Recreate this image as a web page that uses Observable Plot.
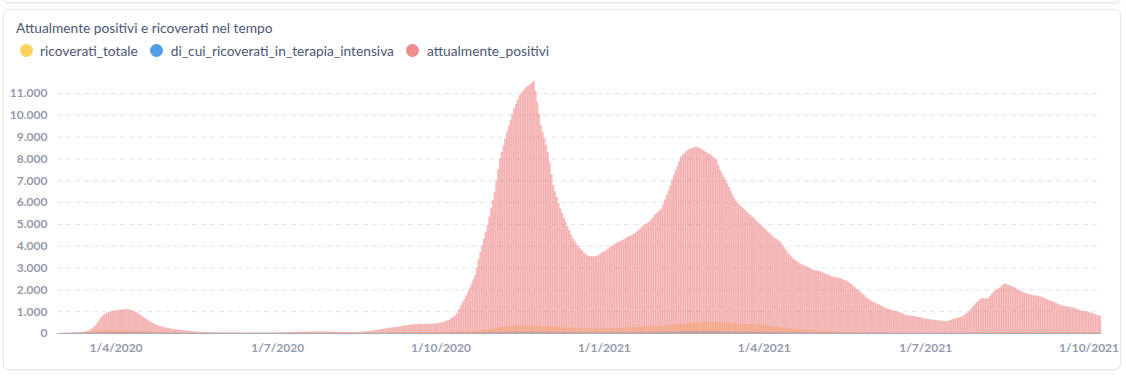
<!DOCTYPE html>
<html>
<head>
<meta charset="utf-8">
<script src="https://cdn.jsdelivr.net/npm/d3@7"></script>
<script src="https://cdn.jsdelivr.net/npm/@observablehq/plot@0.6"></script>
<style>
html,body{margin:0;padding:0;background:#fff;width:1126px;height:376px;overflow:hidden;font-family:Lato,"Open Sans",sans-serif;}
#prev{position:absolute;left:3px;top:-14px;width:1116px;height:15px;border:1px solid #e4e7eb;border-radius:6px;box-shadow:0 1px 3px rgba(0,0,0,0.06);}
#card{position:absolute;left:3px;top:9px;width:1116px;height:359px;border:1px solid #e4e7eb;border-radius:6px;box-shadow:0 1px 3px rgba(0,0,0,0.06);}
#title{position:absolute;left:16px;top:19px;font-size:13.75px;color:#4c5773;white-space:nowrap;}
#legend{position:absolute;left:19.5px;top:42px;display:flex;align-items:center;font-size:13.75px;color:#4c5773;white-space:nowrap;}
.item{display:flex;align-items:center;margin-right:12.5px;}
.dot{width:13px;height:13px;border-radius:50%;margin-right:7.5px;}
#chart{position:absolute;left:0;top:80px;}
</style>
</head>
<body>
<div id="prev"></div>
<div id="card"></div>
<div id="title">Attualmente positivi e ricoverati nel tempo</div>
<div id="legend"></div>
<div id="chart"></div>
<script>
// ---- DATA: one row per month, daily values, from March 2020 to 7 October 2021 ----
const firstYear = 2020, firstMonth = 2; // March 2020 (0-based month)
const seriesNames = ["ricoverati_totale", "di_cui_ricoverati_in_terapia_intensiva", "attualmente_positivi"];
const seriesColors = ["#F9D45C", "#509EE3", "#EF8C8C"];

const attualmentePositivi = [
  [5,8,12,16,20,25,30,35,38,40,42,45,50,60,80,110,150,200,260,340,440,560,680,780,850,900,940,970,1000,1020,1040],
  [1040,1060,1070,1080,1090,1095,1090,1080,1060,1030,1000,960,910,860,800,750,690,630,580,530,480,440,400,370,340,310,290,270,250,230],
  [215,200,185,175,165,155,145,135,125,115,105,95,88,80,72,65,58,52,48,45,42,40,38,36,35,34,33,32,31,30,30],
  [30,29,29,28,28,27,27,26,26,25,25,25,24,24,24,23,23,23,22,22,22,22,22,23,23,24,25,26,27,28],
  [30,32,34,36,38,40,42,45,48,50,52,55,58,60,62,64,65,66,67,68,68,69,70,70,70,70,70,68,66,64,62],
  [62,60,58,56,54,52,50,48,46,45,44,43,42,42,44,50,58,66,75,84,92,100,112,125,138,150,162,175,190,205,220],
  [235,248,258,268,278,288,298,310,322,335,348,360,375,390,400,405,408,410,412,414,416,418,420,422,424,426,430,440,455,475],
  [475,500,530,565,600,650,700,760,820,930,1100,1280,1420,1560,1720,1890,2080,2270,2460,2660,3000,3370,3730,4030,4330,4640,4950,5330,5710,6100,6480],
  [7000,7500,8000,8300,8600,8920,9230,9500,9770,10030,10300,10500,10700,10900,11000,11100,11200,11290,11350,11400,11480,11560,11100,10600,10050,9530,9230,8920,8620,8310],
  [7800,7300,6780,6500,6230,5970,5710,5500,5300,5100,4900,4720,4530,4340,4220,4100,3990,3880,3800,3720,3640,3570,3540,3520,3500,3510,3530,3560,3600,3670,3740],
  [3740,3810,3880,3940,4000,4060,4110,4150,4190,4230,4260,4310,4360,4410,4450,4490,4530,4570,4650,4720,4800,4870,4930,4990,5040,5100,5200,5300,5410,5490,5560],
  [5640,5710,5920,6130,6340,6550,6780,7010,7240,7470,7670,7880,8080,8170,8250,8340,8420,8450,8480,8510,8540,8520,8490,8460,8400,8350,8290,8230],
  [8230,8150,8080,8000,7930,7700,7470,7320,7160,7010,6860,6690,6510,6340,6170,6070,5970,5870,5790,5710,5640,5560,5490,5410,5330,5260,5180,5100,5030,4950,4870],
  [4800,4720,4640,4560,4490,4410,4350,4300,4240,4180,4060,3930,3800,3700,3610,3510,3420,3360,3300,3240,3190,3150,3110,3080,3040,3000,2960,2920,2890,2860],
  [2860,2840,2810,2770,2740,2700,2660,2630,2600,2580,2560,2540,2520,2510,2470,2430,2390,2350,2290,2220,2150,2090,2020,1960,1890,1810,1740,1660,1590,1540,1480],
  [1430,1390,1360,1320,1280,1240,1200,1170,1130,1100,1080,1050,1020,1000,980,950,920,880,850,820,810,800,790,780,765,750,735,720,690,665],
  [665,640,630,620,610,600,590,580,570,560,555,550,550,570,600,640,670,690,710,730,750,800,860,920,980,1080,1180,1280,1360,1440,1520],
  [1590,1600,1590,1580,1600,1700,1800,1890,1950,2010,2070,2120,2200,2280,2250,2220,2180,2150,2120,2080,2030,1990,1940,1900,1860,1820,1800,1780,1760,1740,1720],
  [1720,1700,1680,1660,1620,1590,1550,1510,1480,1460,1430,1390,1350,1320,1280,1260,1240,1230,1210,1190,1170,1150,1130,1100,1080,1050,1030,1010,990,980],
  [950,920,900,870,840,810,780]
];

const ricoveratiTotale = [
  [0,0,2,3,4,5,6,8,10,12,15,18,22,27,33,40,48,56,65,75,85,95,105,112,118,124,128,130,132,132,131],
  [131,130,128,126,123,120,116,112,108,103,98,93,88,83,78,73,68,63,58,54,50,46,42,39,36,33,30,28,26,24],
  [22,20,19,18,17,16,15,14,13,12,11,10,10,9,9,8,8,7,7,7,6,6,6,5,5,5,5,5,5,5,5],
  [5,5,4,4,4,4,4,3,3,3,3,3,3,3,3,3,3,3,3,3,3,3,3,3,3,3,3,3,3,3],
  [3,3,4,4,5,5,6,6,7,8,9,10,11,12,13,14,15,15,16,16,17,17,17,18,18,18,18,17,17,16,16],
  [16,16,15,15,14,14,13,13,12,12,12,12,12,12,12,13,13,14,14,15,16,17,18,19,20,21,22,23,24,25,26],
  [27,28,29,30,31,32,33,34,35,36,37,38,39,40,41,42,42,43,43,44,44,45,45,46,46,47,48,49,50,52],
  [52,54,56,58,60,62,64,66,68,70,72,74,76,78,80,82,85,88,92,96,100,108,118,128,140,152,165,178,192,206,220],
  [235,250,265,278,290,300,310,318,325,330,335,338,340,342,343,344,345,345,344,343,342,340,338,335,332,328,324,320,315,310],
  [305,300,295,290,285,280,275,270,265,260,255,250,246,242,238,234,230,227,224,221,218,216,214,212,210,210,210,210,212,214,216],
  [216,218,220,222,225,228,231,234,237,240,243,246,249,252,256,260,264,268,272,276,280,284,288,292,296,300,305,310,316,322,328],
  [334,340,346,352,360,368,376,385,394,403,412,420,428,436,444,452,460,468,476,484,492,500,508,514,518,520,520,518],
  [518,515,512,508,504,500,495,490,485,480,475,470,465,460,455,450,445,440,435,430,425,420,414,408,402,396,390,384,378,372,366],
  [360,352,344,336,328,318,308,298,288,278,268,258,248,238,228,218,208,200,192,184,176,168,160,152,145,138,131,124,118,112],
  [112,106,100,95,90,86,82,78,74,70,67,64,61,58,55,52,50,48,46,44,42,40,38,36,34,32,30,29,28,27,26],
  [25,24,23,22,21,20,19,18,18,17,17,16,16,15,15,14,14,13,13,12,12,12,11,11,11,10,10,10,10,10],
  [10,10,10,10,10,10,10,10,10,10,10,11,11,12,12,13,13,14,15,16,17,18,19,20,21,22,23,24,25,26,27],
  [28,29,30,31,32,33,34,35,36,37,38,39,40,41,42,42,43,43,44,44,44,44,44,44,43,43,43,42,42,42,41],
  [41,41,40,40,39,39,38,38,37,37,36,36,35,35,34,34,33,33,32,32,31,31,30,30,29,29,28,28,27,27],
  [26,26,25,25,24,24,23]
];

const terapiaIntensiva = [
  [0,0,0,0,0,1,1,2,2,3,4,5,7,9,11,13,15,17,19,21,23,25,27,29,31,33,35,36,37,38,38],
  [38,38,37,37,36,35,34,33,32,31,30,29,28,27,26,25,24,23,22,21,20,19,18,17,16,15,14,13,12,11],
  [10,10,9,9,8,8,7,7,6,6,6,5,5,5,4,4,4,4,3,3,3,3,3,3,2,2,2,2,2,2,2],
  [2,2,2,2,2,1,1,1,1,1,1,1,1,1,1,1,1,1,1,1,1,1,1,1,1,1,1,1,1,1],
  [1,1,1,1,1,1,1,1,1,1,1,1,1,1,1,1,1,1,1,1,1,1,1,1,1,1,1,1,1,1,1],
  [1,1,1,1,1,1,1,1,1,1,1,1,1,1,1,1,1,1,2,2,2,2,2,2,2,2,2,3,3,3,3],
  [3,3,3,3,3,4,4,4,4,4,5,5,5,5,5,5,6,6,6,6,6,7,7,7,7,7,8,8,8,8],
  [8,8,8,8,8,9,9,9,10,10,11,11,12,12,13,14,15,16,17,18,20,22,24,26,28,30,32,34,36,38,40],
  [42,44,46,48,50,52,54,55,56,57,58,58,59,59,60,60,60,60,59,59,58,58,57,56,55,54,53,52,51,50],
  [49,48,47,46,45,44,43,42,41,40,39,38,37,36,35,34,33,32,31,30,30,29,29,28,28,28,28,28,28,28,29],
  [29,29,30,30,31,31,32,32,33,33,34,34,35,36,37,38,39,40,41,42,43,44,45,46,47,48,49,50,51,52,53],
  [54,55,56,57,58,59,60,62,64,66,68,70,72,74,76,78,80,81,82,83,84,84,84,83,82,81,80,79],
  [79,78,77,76,75,74,73,72,71,70,69,68,67,66,65,64,63,62,61,60,59,58,57,56,55,54,53,52,51,50,49],
  [48,47,46,45,44,43,42,41,40,39,38,37,36,35,34,33,32,31,30,29,28,27,26,25,24,23,22,21,20,19],
  [19,18,17,16,15,15,14,14,13,13,12,12,11,11,10,10,10,9,9,9,8,8,8,7,7,7,6,6,6,6,5],
  [5,5,5,5,5,5,5,4,4,4,4,4,4,3,3,3,3,3,3,3,3,3,2,2,2,2,2,2,2,2],
  [2,2,2,2,2,2,2,2,2,2,2,2,2,2,2,2,2,2,2,2,2,2,2,2,2,2,3,3,3,3,3],
  [3,3,3,4,4,4,4,4,4,5,5,5,5,5,5,5,6,6,6,6,6,6,6,6,6,6,6,6,6,6,6],
  [6,6,5,5,5,5,5,5,5,5,5,5,5,5,5,4,4,4,4,4,4,4,4,4,4,4,4,4,4,3],
  [3,3,3,3,3,3,3]
];

const yTicks = [0,1000,2000,3000,4000,5000,6000,7000,8000,9000,10000,11000];
const xTickDates = ["2020-04-01","2020-07-01","2020-10-01","2021-01-01","2021-04-01","2021-07-01","2021-10-01"];
const xDomain = ["2020-02-28","2021-10-08"];

// ---- BUILD ----
const DAY = 864e5;
function toRows(series, name) {
  const out = [];
  series.forEach((month, mi) => month.forEach((v, di) => {
    const date = new Date(Date.UTC(firstYear, firstMonth + mi, 1 + di));
    out.push({date, end: new Date(date.getTime() + DAY), value: v, serie: name});
  }));
  return out;
}
const rowsRic = toRows(ricoveratiTotale, seriesNames[0]);
const rowsTi = toRows(terapiaIntensiva, seriesNames[1]);
const rowsPos = toRows(attualmentePositivi, seriesNames[2]);

const itFmt = d3.formatLocale({decimal: ",", thousands: ".", grouping: [3], currency: ["€", ""]}).format(",");
const dateFmt = d => `${d.getUTCDate()}/${d.getUTCMonth() + 1}/${d.getUTCFullYear()}`;

// legend
const legend = document.getElementById("legend");
seriesNames.forEach((n, i) => {
  const it = document.createElement("div");
  it.className = "item";
  it.innerHTML = `<span class="dot" style="background:${seriesColors[i]}"></span><span>${n}</span>`;
  legend.appendChild(it);
});

const barOpts = (color) => ({x1: "date", x2: "end", y: "value", fill: color, fillOpacity: 0.55, insetLeft: -0.25, insetRight: -0.25});

const chart = Plot.plot({
  width: 1126,
  height: 285,
  marginLeft: 57,
  marginRight: 25,
  marginTop: 13,
  marginBottom: 32,
  style: {fontFamily: "Lato, 'Open Sans', sans-serif", fontSize: "12px", fontWeight: 700, color: "#949aab", background: "transparent", overflow: "visible"},
  x: {type: "utc", domain: xDomain.map(d => new Date(d)), ticks: xTickDates.map(d => new Date(d)), tickFormat: dateFmt, tickSize: 0, tickPadding: 10, label: null},
  y: {domain: [0, 11000], ticks: yTicks, tickFormat: itFmt, tickSize: 0, tickPadding: 10, label: null},
  marks: [
    Plot.ruleY(yTicks.filter(v => v > 0), {stroke: "#e3e6ea", strokeDasharray: "5,4"}),
    Plot.rectY(rowsRic, barOpts(seriesColors[0])),
    Plot.rectY(rowsTi, barOpts(seriesColors[1])),
    Plot.rectY(rowsPos, barOpts(seriesColors[2])),
    Plot.ruleY([0], {stroke: "#a7abb3"})
  ]
});
document.getElementById("chart").appendChild(chart);
</script>
</body>
</html>
